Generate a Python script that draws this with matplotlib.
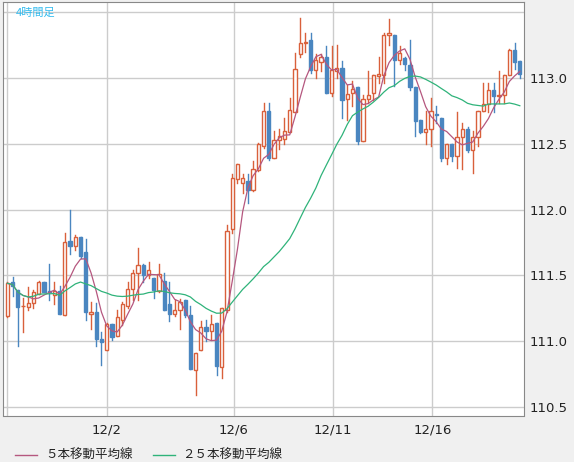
import matplotlib
matplotlib.use("Agg")
import matplotlib.pyplot as plt
from matplotlib.patches import Rectangle
from matplotlib.lines import Line2D
import numpy as np
import pandas as pd

opens = [111.19,111.45,111.39,111.265,111.26,111.29,111.36,111.45,111.38,111.35,111.38,111.20,111.76,111.72,111.79,111.68,111.21,111.22,111.02,110.93,
         111.13,111.04,111.16,111.27,111.40,111.52,111.58,111.50,111.48,111.38,111.46,111.28,111.21,111.24,111.31,111.20,110.78,110.93,111.11,111.08,
         111.14,110.80,111.24,111.85,112.23,112.20,112.22,112.15,112.30,112.48,112.75,112.39,112.53,112.54,112.59,112.74,113.18,113.27,113.29,113.06,
         113.12,113.16,112.89,113.05,113.08,112.84,112.89,112.93,112.52,112.84,112.89,113.015,113.02,113.33,113.33,113.14,113.15,113.10,112.93,112.68,
         112.59,112.61,112.73,112.70,112.39,112.50,112.41,112.55,112.61,112.45,112.55,112.75,112.80,112.91,112.86,112.87,113.02,113.21,113.13]
closes = [111.44,111.42,111.26,111.27,111.29,111.37,111.45,111.37,111.37,111.38,111.21,111.75,111.72,111.79,111.65,111.22,111.22,111.02,110.99,111.13,
          111.03,111.18,111.28,111.40,111.52,111.58,111.50,111.54,111.39,111.51,111.24,111.21,111.24,111.30,111.20,110.79,110.91,111.11,111.08,111.13,
          110.81,111.25,111.84,112.24,112.35,112.24,112.15,112.31,112.50,112.75,112.39,112.53,112.56,112.60,112.76,113.07,113.27,113.27,113.06,113.14,
          113.16,112.89,113.06,113.08,112.83,112.88,112.92,112.52,112.84,112.87,113.02,113.03,113.33,113.34,113.14,113.19,113.11,112.93,112.67,112.59,
          112.61,112.75,112.72,112.39,112.50,112.41,112.55,112.61,112.45,112.55,112.75,112.80,112.91,112.86,112.87,113.02,113.21,113.12,113.03]
highs = [111.45,111.49,111.39,111.33,111.41,111.39,111.46,111.45,111.59,111.45,111.42,111.82,112.00,111.81,111.79,111.78,111.30,111.29,111.07,111.14,
         111.13,111.24,111.30,111.45,111.54,111.71,111.59,111.60,111.48,111.59,111.52,111.45,111.31,111.32,111.31,111.27,110.91,111.15,111.16,111.20,
         111.14,111.25,111.88,112.27,112.35,112.27,112.27,112.37,112.51,112.81,112.81,112.60,112.61,112.70,112.85,113.19,113.46,113.34,113.34,113.18,
         113.18,113.24,113.24,113.25,113.13,112.95,112.98,112.93,112.87,113.05,113.02,113.16,113.34,113.45,113.33,113.24,113.16,113.29,112.93,112.68,
         112.75,112.85,112.79,112.70,112.50,112.50,112.74,112.66,112.63,112.60,112.75,112.96,112.96,112.96,113.05,113.02,113.22,113.27,113.13]
lows = [111.18,111.34,110.96,111.07,111.24,111.25,111.36,111.37,111.31,111.28,111.21,111.20,111.66,111.69,111.63,111.16,111.09,110.96,110.82,110.93,
        111.01,111.04,111.12,111.25,111.31,111.31,111.45,111.48,111.33,111.37,111.24,111.15,111.19,111.09,111.18,110.79,110.59,110.93,111.00,111.02,
        110.74,110.72,111.22,111.82,112.20,112.13,112.05,112.14,112.29,112.47,112.38,112.39,112.46,112.50,112.59,112.74,113.16,113.20,113.04,113.00,
        113.05,112.89,112.86,113.00,112.70,112.68,112.79,112.50,112.52,112.81,112.83,112.96,112.96,113.25,112.94,113.11,113.06,112.91,112.56,112.58,
        112.50,112.48,112.66,112.37,112.35,112.37,112.32,112.31,112.44,112.28,112.48,112.75,112.74,112.74,112.81,112.81,113.02,113.07,113.00]

tick_labels = ["12/2", "12/6", "12/11", "12/16"]
tick_pos = [19.0, 43.3, 62.3, 81.3]
y_ticks = [110.5, 111.0, 111.5, 112.0, 112.5, 113.0]

UP = "#d9603b"; DOWN = "#4a86c0"; MA5C = "#b5577f"; MA25C = "#2fb37a"

fig = plt.figure(figsize=(5.74, 4.62), dpi=100, facecolor="#f0f0f0")
W, H = 574, 462
ax = fig.add_axes([3/W, 1-415.5/H, (524-3)/W, (415.5-2)/H])
ax.set_facecolor("white")
n = len(opens)
x = np.arange(n)
bw = 0.62
for i in x:
    o, c, h, l = opens[i], closes[i], highs[i], lows[i]
    up = c >= o
    col = UP if up else DOWN
    ax.plot([i, i], [l, h], color=col, lw=1, zorder=2)
    bot = min(o, c); ht = max(abs(c - o), 0.004)
    ax.add_patch(Rectangle((i - bw/2, bot), bw, ht, facecolor="white" if up else DOWN,
                           edgecolor=col, lw=1, zorder=3))
s = pd.Series(closes)
ma5 = s.rolling(5, min_periods=1).mean()
ma25 = s.rolling(25, min_periods=1).mean()
ax.plot(x, ma5, color=MA5C, lw=0.9, zorder=4)
ax.plot(x, ma25, color=MA25C, lw=0.9, zorder=4)

ax.set_xlim(-0.83, 98.8)
ax.set_ylim(110.435, 113.578)
ax.set_xticks(tick_pos)
ax.set_xticklabels(tick_labels)
ax.set_yticks(y_ticks + [113.5])
ax.set_yticklabels([f"{v:.1f}" for v in y_ticks] + [""])
ax.yaxis.tick_right()
ax.tick_params(length=0, labelsize=9.5, colors="#222222", pad=4)
ax.tick_params(axis="x", pad=6)
ax.grid(True, color="#cccccc", lw=1, zorder=0)
ax.axvline(-0.06, color="#cccccc", lw=1, zorder=0)
for sp in ax.spines.values():
    sp.set_color("#888888")
ax.text(0.025, 0.985, "4時間足", transform=ax.transAxes, color="#33bbee", fontsize=8,
        va="top", ha="left", family=["Noto Sans CJK JP", "DejaVu Sans"])
fig.lines.append(Line2D([15/W, 37/W], [1-455/H+0.0]*2, color=MA5C, lw=1, transform=fig.transFigure))
fig.text(45/W, 1-455/H, "５本移動平均線", fontsize=9, va="center", color="#222222",
         family=["Noto Sans CJK JP", "DejaVu Sans"])
fig.lines.append(Line2D([153/W, 175/W], [1-455/H]*2, color=MA25C, lw=1, transform=fig.transFigure))
fig.text(182/W, 1-455/H, "２５本移動平均線", fontsize=9, va="center", color="#222222",
         family=["Noto Sans CJK JP", "DejaVu Sans"])
fig.savefig("out.png", dpi=100, facecolor=fig.get_facecolor())
